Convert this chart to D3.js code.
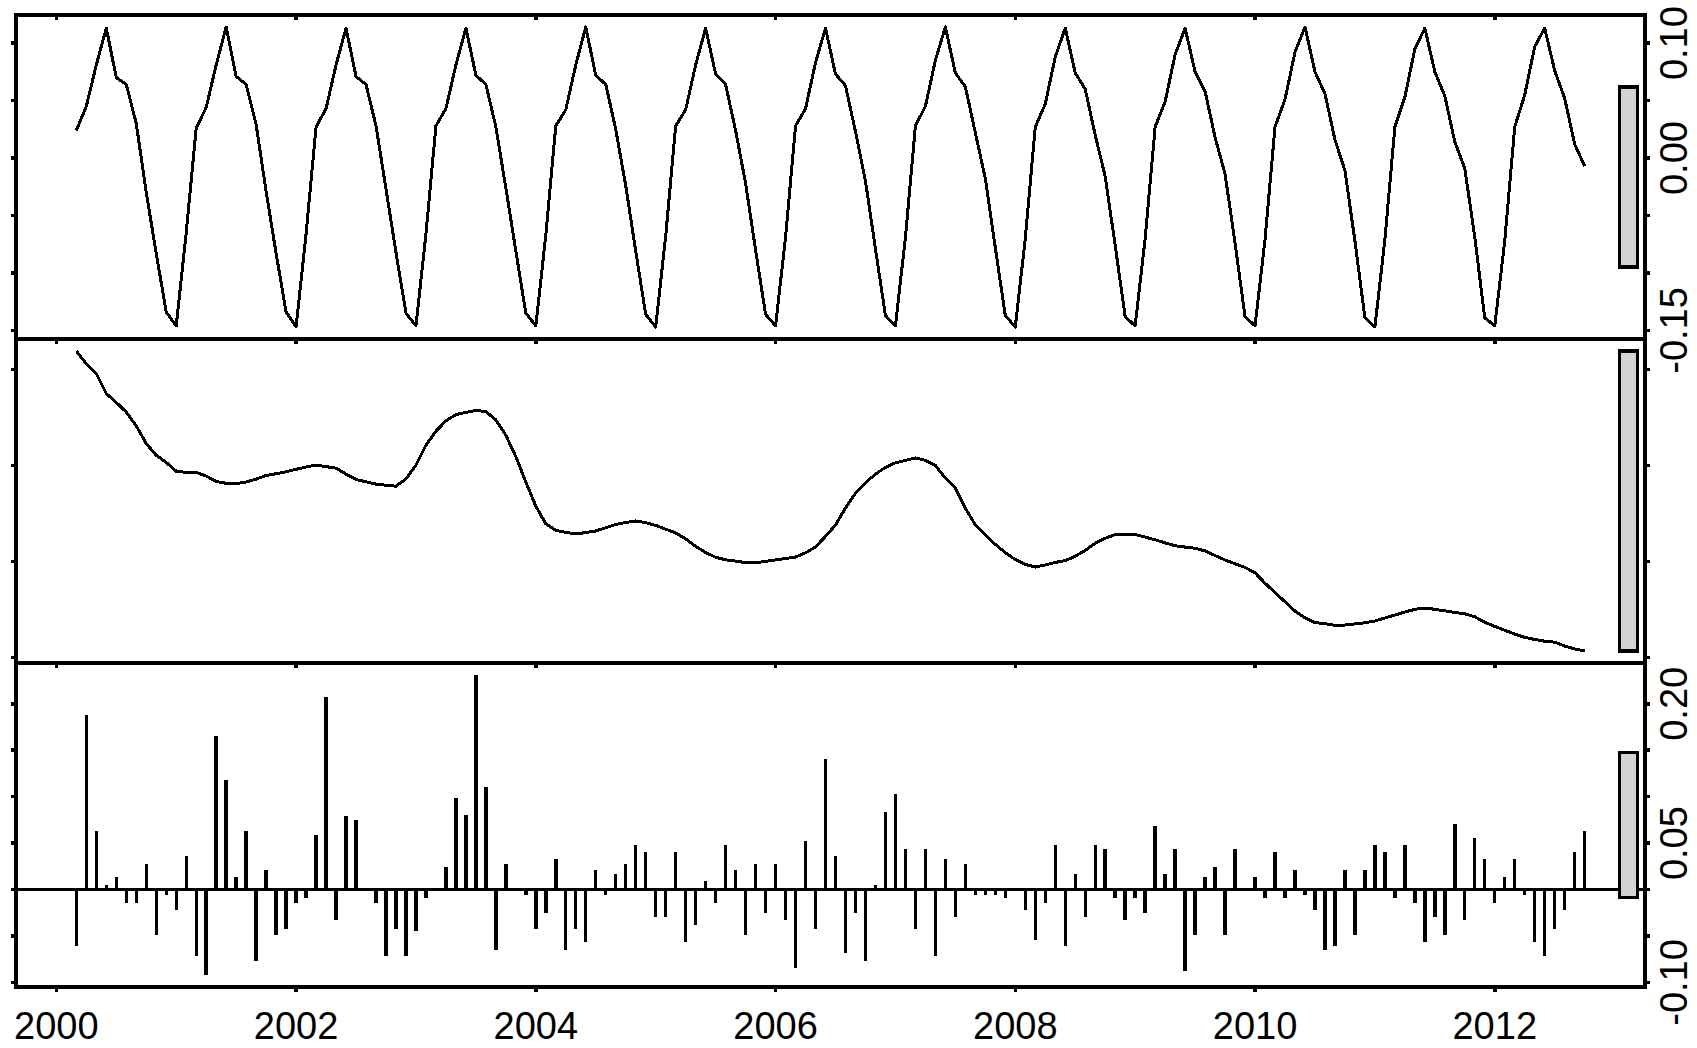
<!DOCTYPE html>
<html>
<head>
<meta charset="utf-8">
<script src="https://cdn.jsdelivr.net/npm/d3@7"></script>
<style>
  body { margin: 0; background: #fff; }
  svg { display: block; }
</style>
</head>
<body>
<div id="chart"></div>
<script>
// Monthly series, first observation March 2000, last October 2012
const startYear = 2000;
const startMonth = 3;

// seasonal component, one row per season (Mar .. Feb)
const seasonal = [
   0.024, 0.045, 0.081, 0.113, 0.070, 0.064, 0.030, -0.030, -0.083, -0.134, -0.146, -0.065,
   0.026, 0.044, 0.081, 0.114, 0.071, 0.064, 0.029, -0.029, -0.083, -0.134, -0.147, -0.066,
   0.027, 0.043, 0.081, 0.113, 0.071, 0.064, 0.028, -0.027, -0.082, -0.135, -0.146, -0.066,
   0.028, 0.043, 0.081, 0.113, 0.072, 0.064, 0.027, -0.026, -0.081, -0.135, -0.146, -0.067,
   0.028, 0.042, 0.081, 0.114, 0.072, 0.064, 0.025, -0.024, -0.081, -0.136, -0.147, -0.068,
   0.028, 0.042, 0.081, 0.113, 0.073, 0.064, 0.024, -0.022, -0.080, -0.136, -0.146, -0.069,
   0.028, 0.043, 0.083, 0.113, 0.073, 0.063, 0.023, -0.020, -0.079, -0.137, -0.146, -0.069,
   0.028, 0.045, 0.085, 0.114, 0.074, 0.062, 0.022, -0.018, -0.078, -0.137, -0.147, -0.070,
   0.027, 0.047, 0.088, 0.113, 0.074, 0.060, 0.020, -0.016, -0.076, -0.138, -0.146, -0.070,
   0.027, 0.049, 0.090, 0.113, 0.075, 0.058, 0.018, -0.014, -0.074, -0.138, -0.146, -0.071,
   0.027, 0.051, 0.092, 0.114, 0.075, 0.056, 0.016, -0.011, -0.072, -0.139, -0.147, -0.071,
   0.027, 0.053, 0.095, 0.113, 0.075, 0.054, 0.014, -0.009, -0.069, -0.139, -0.146, -0.072,
   0.027, 0.055, 0.097, 0.113, 0.076, 0.052, 0.012, -0.007
];

// trend component
const trend = [
  2.5597, 2.5530, 2.5479, 2.5375, 2.5329, 2.5279, 2.5207, 2.5115, 2.5054, 2.5017, 2.4971, 2.4965,
  2.4965, 2.4946, 2.4918, 2.4908, 2.4906, 2.4915, 2.4930, 2.4949, 2.4958, 2.4968, 2.4981, 2.4993,
  2.5003, 2.4995, 2.4987, 2.4956, 2.4928, 2.4916, 2.4904, 2.4898, 2.4893, 2.4931, 2.5003, 2.5106,
  2.5180, 2.5233, 2.5266, 2.5277, 2.5288, 2.5281, 2.5239, 2.5158, 2.5047, 2.4915, 2.4789, 2.4697,
  2.4663, 2.4653, 2.4644, 2.4652, 2.4660, 2.4677, 2.4694, 2.4704, 2.4712, 2.4703, 2.4689, 2.4669,
  2.4650, 2.4619, 2.4580, 2.4548, 2.4523, 2.4510, 2.4503, 2.4495, 2.4494, 2.4502, 2.4509, 2.4517,
  2.4524, 2.4546, 2.4577, 2.4632, 2.4691, 2.4780, 2.4856, 2.4911, 2.4956, 2.4991, 2.5015, 2.5027,
  2.5040, 2.5028, 2.5001, 2.4935, 2.4884, 2.4779, 2.4691, 2.4639, 2.4590, 2.4547, 2.4511, 2.4486,
  2.4472, 2.4483, 2.4496, 2.4506, 2.4528, 2.4559, 2.4596, 2.4622, 2.4641, 2.4641, 2.4641, 2.4628,
  2.4614, 2.4598, 2.4583, 2.4576, 2.4570, 2.4556, 2.4532, 2.4509, 2.4489, 2.4470, 2.4442, 2.4388,
  2.4339, 2.4291, 2.4243, 2.4208, 2.4183, 2.4177, 2.4169, 2.4170, 2.4176, 2.4182, 2.4191, 2.4207,
  2.4222, 2.4238, 2.4252, 2.4259, 2.4252, 2.4244, 2.4236, 2.4229, 2.4213, 2.4185, 2.4163, 2.4143,
  2.4123, 2.4106, 2.4095, 2.4086, 2.4081, 2.4061, 2.4046, 2.4035
];

// remainder component
const remainder = [
  -0.061, 0.188, 0.063, 0.005, 0.013, -0.014, -0.014, 0.028, -0.049, -0.006, -0.022, 0.036,
  -0.072, -0.092, 0.165, 0.118, 0.013, 0.063, -0.077, 0.021, -0.049, -0.042, -0.014, -0.009,
  0.059, 0.207, -0.033, 0.079, 0.075, 0.001, -0.014, -0.072, -0.042, -0.072, -0.045, -0.009,
  0.001, 0.024, 0.099, 0.080, 0.231, 0.110, -0.065, 0.028, -0.001, -0.006, -0.042, -0.025,
  0.033, -0.065, -0.042, -0.056, 0.021, -0.006, 0.017, 0.028, 0.048, 0.040, -0.030, -0.030,
  0.040, -0.056, -0.038, 0.009, -0.014, 0.048, 0.021, -0.049, 0.028, -0.025, 0.028, -0.033,
  -0.084, 0.052, -0.042, 0.141, 0.036, -0.068, -0.025, -0.077, 0.005, 0.083, 0.103, 0.044,
  -0.042, 0.044, -0.072, 0.033, -0.030, 0.028, -0.006, -0.006, -0.006, -0.009, 0.001, -0.022,
  -0.054, -0.014, 0.048, -0.061, 0.017, -0.030, 0.048, 0.044, -0.009, -0.033, -0.009, -0.025,
  0.068, 0.017, 0.044, -0.088, -0.049, 0.013, 0.024, -0.049, 0.044, 0.001, 0.013, -0.009,
  0.040, -0.009, 0.021, -0.006, -0.022, -0.065, -0.061, 0.021, -0.049, 0.021, 0.048, 0.040,
  -0.009, 0.048, -0.014, -0.056, -0.030, -0.049, 0.071, -0.033, 0.056, 0.033, -0.014, 0.013,
  0.033, -0.006, -0.056, -0.072, -0.042, -0.022, 0.040, 0.063
];

const yearTicks = [2000, 2002, 2004, 2006, 2008, 2010, 2012];
const seasonalLabels = [0.10, 0.00, -0.15];
const trendLabels = [];
const remainderLabels = [0.20, 0.05, -0.10];

// ---- layout
const width = 1697, height = 1048;
const plotLeft = 16, plotRight = 1645, plotTop = 15, plotBottom = 987;
const panelH = (plotBottom - plotTop) / 3;
const tickLen = 5;
const font = '"Liberation Sans", Arial, sans-serif';

const time = seasonal.map((d, i) => startYear + (startMonth - 1 + i) / 12);

// R style axis range: data range widened by 4% each side
function padded(ext) {
    const r = ext[1] - ext[0];
    return [ext[0] - 0.04 * r, ext[1] + 0.04 * r];
}

const x = d3.scaleLinear()
    .domain(padded(d3.extent(time)))
    .range([plotLeft, plotRight]);

const svg = d3.select('#chart')
    .append('svg')
    .attr('width', width)
    .attr('height', height);

const panels = [
    { values: seasonal, type: 'line', labels: seasonalLabels },
    { values: trend, type: 'line', labels: trendLabels },
    { values: remainder, type: 'bars', labels: remainderLabels }
];

// height of the range bars = smallest component range
const minRange = d3.min(panels, p => {
    const e = d3.extent(p.values);
    return e[1] - e[0];
});

panels.forEach((p, i) => {
    const y0 = plotTop + i * panelH;
    const y1 = y0 + panelH;
    const ext = d3.extent(p.values);
    const y = d3.scaleLinear()
        .domain(padded(ext))
        .range([y1, y0]);

    const g = svg.append('g');

    if (p.type === 'line') {
        const line = d3.line()
            .x((d, k) => x(time[k]))
            .y(d => y(d));
        g.append('path')
            .datum(p.values)
            .attr('d', line)
            .attr('fill', 'none')
            .attr('stroke', '#000')
            .attr('stroke-width', 3)
            .attr('stroke-linejoin', 'round')
            .style('shape-rendering', 'crispEdges');
    } else {
        // zero line
        g.append('line')
            .attr('x1', plotLeft).attr('x2', plotRight)
            .attr('y1', y(0)).attr('y2', y(0))
            .attr('stroke', '#000')
            .attr('stroke-width', 3.5)
            .style('shape-rendering', 'crispEdges');
        g.selectAll('line.bar')
            .data(p.values)
            .join('line')
            .attr('class', 'bar')
            .attr('x1', (d, k) => x(time[k]))
            .attr('x2', (d, k) => x(time[k]))
            .attr('y1', y(0))
            .attr('y2', d => y(d))
            .attr('stroke', '#000')
            .attr('stroke-width', 3.4)
            .style('shape-rendering', 'crispEdges');
    }

    // range bar
    const dx = (plotRight - plotLeft) / 64;
    const mid = (ext[0] + ext[1]) / 2;
    g.append('rect')
        .attr('x', plotRight - dx)
        .attr('width', 0.7 * dx)
        .attr('y', y(mid + minRange / 2))
        .attr('height', y(mid - minRange / 2) - y(mid + minRange / 2))
        .attr('fill', '#d3d3d3')
        .attr('stroke', '#000')
        .attr('stroke-width', 3.5)
        .style('shape-rendering', 'crispEdges');

    // y ticks on both sides
    const yt = y.ticks(5);
    g.selectAll('line.yl')
        .data(yt)
        .join('line')
        .attr('class', 'yl')
        .attr('x1', plotLeft - tickLen).attr('x2', plotLeft)
        .attr('y1', d => y(d)).attr('y2', d => y(d))
        .attr('stroke', '#000').attr('stroke-width', 3.5)
        .style('shape-rendering', 'crispEdges');
    g.selectAll('line.yr')
        .data(yt)
        .join('line')
        .attr('class', 'yr')
        .attr('x1', plotRight).attr('x2', plotRight + tickLen)
        .attr('y1', d => y(d)).attr('y2', d => y(d))
        .attr('stroke', '#000').attr('stroke-width', 3.5)
        .style('shape-rendering', 'crispEdges');

    // right-hand labels, rotated
    g.selectAll('text.ylab')
        .data(p.labels)
        .join('text')
        .attr('class', 'ylab')
        .attr('transform', d => `translate(${plotRight + 42},${y(d)}) rotate(-90)`)
        .attr('text-anchor', 'middle')
        .style('font-family', font)
        .style('font-size', '38px')
        .text(d => d3.format('.2f')(d).replace('\u2212', '-'));

    // time ticks below each panel (and below the cropped panel above the first)
    const tickRows = i === 0 ? [y0, y1] : [y1];
    tickRows.forEach(ty => {
        g.append('g')
            .selectAll('line')
            .data(yearTicks)
            .join('line')
            .attr('x1', d => x(d)).attr('x2', d => x(d))
            .attr('y1', ty).attr('y2', ty + tickLen)
            .attr('stroke', '#000').attr('stroke-width', 3.5)
            .style('shape-rendering', 'crispEdges');
    });

    // frame
    g.append('rect')
        .attr('x', plotLeft).attr('y', y0)
        .attr('width', plotRight - plotLeft).attr('height', panelH)
        .attr('fill', 'none')
        .attr('stroke', '#000')
        .attr('stroke-width', 3.5)
        .style('shape-rendering', 'crispEdges');
});

// year labels under the last panel
svg.append('g')
    .selectAll('text')
    .data(yearTicks)
    .join('text')
    .attr('x', d => x(d))
    .attr('y', 1039)
    .attr('text-anchor', 'middle')
    .style('font-family', font)
    .style('font-size', '38px')
    .text(d => d);
</script>
</body>
</html>
